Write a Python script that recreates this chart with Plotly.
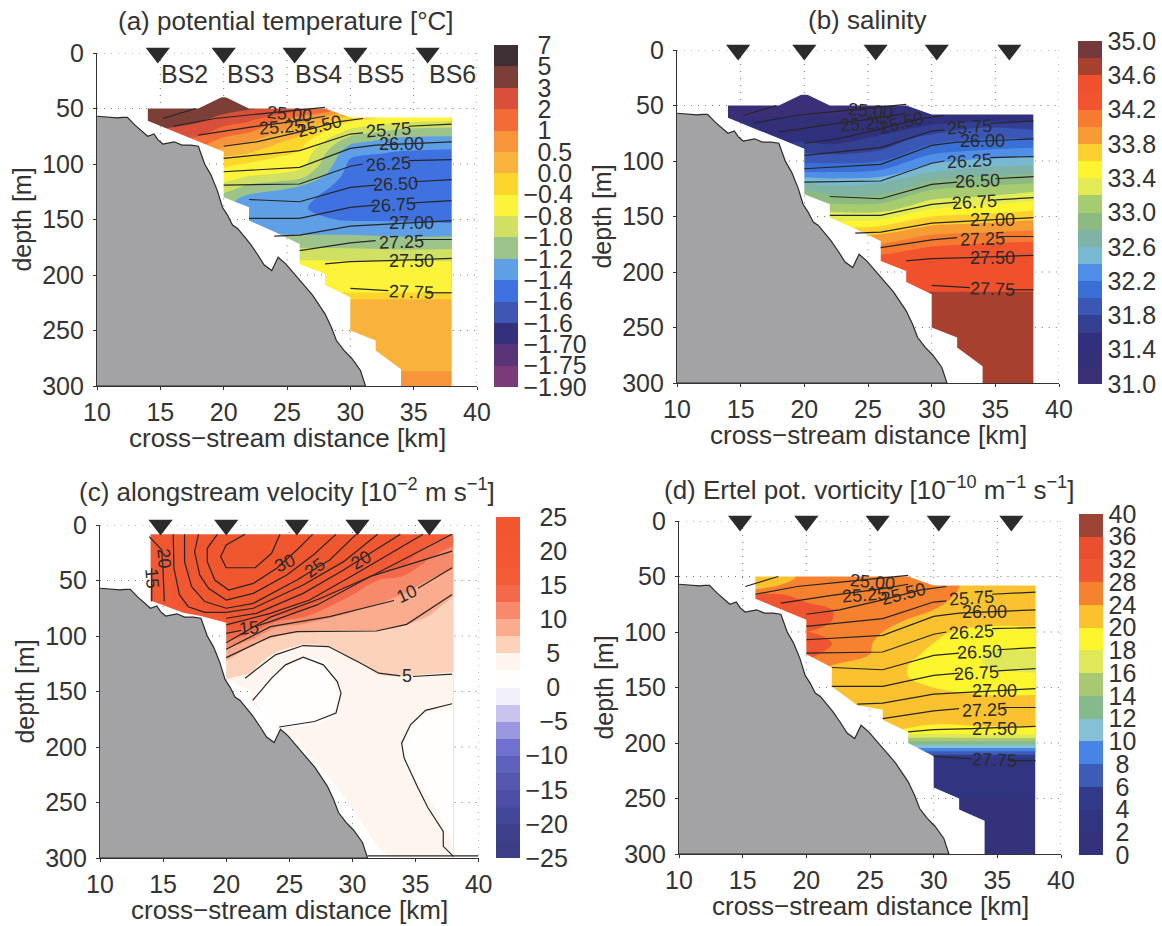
import numpy as np
import plotly.graph_objects as go

W, H = 1162, 926

# ---------- section grid (km, m) ----------
grid_x = [14, 18, 20, 22, 26, 30, 34, 38]
grid_z = [40, 50, 60, 70, 80, 90, 100, 110, 120, 130, 140, 150, 160, 170, 180, 190, 200, 215, 225, 250, 280, 300]

theta = [
    [4.5, 4.5, 4.2, 3.5, 2.5, 1.0, -0.2, -0.6],
    [4.5, 4.2, 3.8, 3.2, 2.4, 0.8, -0.3, -0.6],
    [4.0, 3.4, 2.6, 2.2, 0.7, -0.3, -0.6, -0.7],
    [3.0, 2.5, 1.6, 1.2, 0.2, -0.85, -1.05, -1.1],
    [2.0, 1.5, 0.8, 0.5, -0.2, -1.15, -1.3, -1.3],
    [1.0, 0.7, 0.2, 0.0, -0.45, -1.35, -1.42, -1.45],
    [0.5, 0.0, -0.3, -0.45, -0.6, -1.45, -1.48, -1.48],
    [-0.3, -0.5, -0.6, -0.75, -0.9, -1.5, -1.52, -1.5],
    [-0.8, -0.8, -0.85, -1.05, -1.2, -1.52, -1.53, -1.52],
    [-1.0, -1.0, -1.1, -1.25, -1.35, -1.5, -1.53, -1.53],
    [-1.2, -1.2, -1.2, -1.35, -1.38, -1.5, -1.5, -1.52],
    [-1.3, -1.3, -1.3, -1.35, -1.35, -1.42, -1.42, -1.45],
    [-1.25, -1.25, -1.25, -1.25, -1.25, -1.25, -1.3, -1.3],
    [-1.1, -1.1, -1.1, -1.1, -1.12, -1.12, -1.12, -1.1],
    [-0.9, -0.9, -0.9, -0.9, -0.9, -0.92, -0.95, -0.95],
    [-0.7, -0.7, -0.7, -0.7, -0.7, -0.7, -0.7, -0.7],
    [-0.6, -0.6, -0.6, -0.6, -0.6, -0.6, -0.6, -0.6],
    [-0.45, -0.45, -0.45, -0.45, -0.45, -0.45, -0.45, -0.45],
    [0.25, 0.25, 0.25, 0.25, 0.25, 0.25, 0.25, 0.25],
    [0.25, 0.25, 0.25, 0.25, 0.25, 0.25, 0.25, 0.25],
    [0.4, 0.4, 0.4, 0.4, 0.4, 0.4, 0.4, 0.4],
    [0.7, 0.7, 0.7, 0.7, 0.7, 0.7, 0.7, 0.7],
]
salinity = [
    [31.1, 31.1, 31.1, 31.1, 31.1, 31.2, 31.35, 31.4],
    [31.1, 31.1, 31.1, 31.1, 31.1, 31.3, 31.4, 31.4],
    [31.15, 31.2, 31.2, 31.2, 31.3, 31.45, 31.45, 31.45],
    [31.3, 31.3, 31.35, 31.35, 31.5, 31.65, 31.8, 31.75],
    [31.4, 31.5, 31.55, 31.5, 31.65, 31.9, 32.0, 32.0],
    [31.6, 31.7, 31.75, 31.7, 31.8, 32.1, 32.2, 32.25],
    [31.8, 31.9, 31.95, 31.95, 32.0, 32.35, 32.45, 32.5],
    [32.0, 32.1, 32.2, 32.2, 32.25, 32.6, 32.7, 32.75],
    [32.4, 32.5, 32.6, 32.55, 32.6, 32.85, 32.95, 33.0],
    [32.8, 32.85, 32.9, 32.8, 32.8, 33.1, 33.15, 33.25],
    [33.0, 33.0, 33.1, 33.05, 33.05, 33.3, 33.4, 33.5],
    [33.3, 33.3, 33.3, 33.3, 33.3, 33.6, 33.65, 33.72],
    [33.6, 33.6, 33.6, 33.55, 33.65, 33.85, 33.9, 33.95],
    [33.9, 33.9, 33.9, 33.9, 33.9, 34.08, 34.12, 34.15],
    [34.1, 34.1, 34.1, 34.1, 34.12, 34.25, 34.3, 34.33],
    [34.3, 34.3, 34.3, 34.3, 34.3, 34.42, 34.43, 34.45],
    [34.4, 34.4, 34.4, 34.4, 34.4, 34.5, 34.5, 34.5],
    [34.55, 34.55, 34.55, 34.55, 34.55, 34.58, 34.58, 34.58],
    [34.65, 34.65, 34.65, 34.65, 34.65, 34.65, 34.65, 34.65],
    [34.7, 34.7, 34.7, 34.7, 34.7, 34.7, 34.7, 34.7],
    [34.7, 34.7, 34.7, 34.7, 34.7, 34.7, 34.7, 34.7],
    [34.7, 34.7, 34.7, 34.7, 34.7, 34.7, 34.7, 34.7],
]
vorticity = [
    [20, 22, 26, 26, 26, 24, 22, 22],
    [20, 21, 26, 27, 26, 25, 23, 22],
    [21, 25, 27, 27, 26, 25, 23, 22.5],
    [30, 30, 27, 27, 26, 24.5, 23, 22.5],
    [30, 30, 30, 28, 26, 24, 22.5, 22],
    [30, 30, 30, 28, 25, 22.5, 21, 21],
    [28, 28, 28, 27, 24, 20.5, 19.5, 19.5],
    [28, 28, 29, 28, 23, 20, 19, 19],
    [28, 28, 29, 27, 23, 19.5, 18, 17.5],
    [26, 26, 26, 24, 22, 19, 18, 17],
    [24, 24, 24, 23, 22, 19, 19, 18.5],
    [23, 23, 23, 22.5, 21.5, 20, 19.5, 19.5],
    [23, 23, 22, 22, 22, 21, 20.5, 20.5],
    [22, 22, 22, 22, 22, 21.5, 21, 21],
    [21.5, 21.5, 21.5, 21.5, 21.5, 21, 21, 21],
    [20, 20, 20, 20, 20, 19, 19.5, 19.5],
    [13, 13, 13, 13, 13, 13, 13, 13],
    [3, 3, 3, 3, 3, 3, 3, 3],
    [2.5, 2.5, 2.5, 2.5, 2.5, 2.5, 2.5, 2.5],
    [2, 2, 2, 2, 2, 2, 2, 2],
    [1.5, 1.5, 1.5, 1.5, 1.5, 1.5, 1.5, 1.5],
    [1.5, 1.5, 1.5, 1.5, 1.5, 1.5, 1.5, 1.5],
]

vel_x = [14, 20, 22, 24, 26, 28, 30, 32, 34, 36, 38]
vel_z = [8, 20, 35, 50, 65, 80, 95, 110, 125, 140, 155, 170, 190, 210, 240, 270, 300]
velocity = [
    [22, 34, 35, 33, 30, 28, 26, 22.5, 20, 17.5, 15],
    [20, 34, 35, 33, 30, 28, 24, 21, 17.5, 14.5, 12.2],
    [18, 33, 34, 31, 29, 25, 21, 18, 15.5, 11.7, 10.5],
    [18, 30, 30, 28, 25, 20.5, 16, 12.5, 11.4, 10, 8.8],
    [18, 27.5, 27.5, 23, 18.5, 15, 12, 10.7, 9.7, 8.8, 7.4],
    [15, 22, 19, 16, 13.8, 11, 9.7, 9, 8.3, 7.6, 6.9],
    [15, 15.8, 13.5, 8.5, 7.8, 7.5, 7.5, 7.5, 7.2, 6.9, 6.4],
    [15, 10.8, 7.2, 5.8, 4.55, 4.85, 6.1, 6.5, 6.4, 6.2, 5.9],
    [15, 6.8, 5.9, 3.1, 1.8, 2.3, 4.7, 5.5, 5.6, 5.5, 5.3],
    [15, 5, 4.2, 2, 1.5, 2.0, 4, 4.7, 4.8, 4.7, 4.7],
    [15, 3.5, 2.7, 1.5, 1.5, 1.8, 3.6, 4, 4.1, 3.9, 3.6],
    [15, 3, 3, 2, 1.8, 2.2, 3.5, 3.5, 3, 2.4, 2],
    [3, 3, 3, 3, 3, 3.2, 3.4, 3.1, 2.6, 2, 1.8],
    [3, 3, 3, 3.2, 3.2, 3.2, 3.2, 3.2, 2.5, 1.9, 1.7],
    [3, 3, 3, 3.2, 3.2, 3.2, 3.2, 3.2, 3, 2.4, 1.7],
    [3, 3, 3, 3.3, 3.3, 3.3, 3.3, 3.3, 3.3, 3, 2.2],
    [3, 3, 3, 3.3, 3.3, 3.3, 3.3, 3.3, 3.3, 3, 2.6],
]

# ---------- colour levels (bottom to top) ----------
theta_levels = [-1.9, -1.75, -1.7, -1.65, -1.6, -1.4, -1.2, -1.0, -0.8, -0.4, 0.0, 0.5, 1, 2, 3, 5, 7]
theta_labels = ["−1.90", "−1.75", "−1.70", "−1.6", "−1.6", "−1.4", "−1.2", "−1.0", "−0.8", "−0.4",
                "\u00a0\u00a00.0", "\u00a0\u00a00.5", "\u00a0\u00a01", "\u00a0\u00a02", "\u00a0\u00a03", "\u00a0\u00a05", "\u00a0\u00a07"]
theta_colors = ["#7b3a78", "#5a3478", "#35307c", "#3f57b3", "#3f72e0", "#5f9fe5", "#9dc488", "#cfe062",
                "#fcf33a", "#fdd62c", "#f9b23b", "#f7953b", "#f26a36", "#d9503a", "#7c3f38", "#3f3035"]

sal_levels = [31.0, 31.2, 31.4, 31.6, 31.8, 32.0, 32.2, 32.4, 32.6, 32.8, 33.0, 33.2, 33.4, 33.6, 33.8, 34.0, 34.2, 34.4, 34.6, 34.8, 35.0]
sal_tick_idx = [0, 2, 4, 6, 8, 10, 12, 14, 16, 18, 20]
sal_labels = ["31.0", "31.4", "31.8", "32.2", "32.6", "33.0", "33.4", "33.8", "34.2", "34.6", "35.0"]
sal_colors = ["#3b3078", "#33307a", "#30307e", "#333f90", "#3a57b5", "#3a70d5", "#4f8fe8", "#78b8d0", "#7fb3a5", "#8cba80",
              "#a7cc70", "#e4ec55", "#fdf52f", "#fcd02f", "#f79b35", "#f67a30", "#f2552e", "#f0502c", "#a8402f", "#74393a"]

vel_levels = [-25, -22.5, -20, -17.5, -15, -12.5, -10, -7.5, -5, -2.5, 0, 2.5, 5, 7.5, 10, 12.5, 15, 17.5, 20, 22.5, 25]
vel_tick_idx = [0, 2, 4, 6, 8, 10, 12, 14, 16, 18, 20]
vel_labels = ["−25", "−20", "−15", "−10", "\u00a0\u00a0−5", "\u00a0\u00a0\u00a00", "\u00a0\u00a0\u00a05",
              "\u00a0\u00a010", "\u00a0\u00a015", "\u00a0\u00a020", "\u00a0\u00a025"]
vel_colors = ["#3d3d86", "#3e408d", "#434797", "#4b4ea3", "#5557ae", "#5f62bd", "#6f70cf", "#9b98e0", "#c8c4ee", "#f2f0fa",
              "#fffefd", "#fef6ee", "#fcd2bb", "#fbab8e", "#f88a6c", "#f4694a", "#f35a36", "#f25833", "#f15731", "#f1572f"]

pv_levels = [0, 2, 4, 6, 8, 10, 12, 14, 16, 18, 20, 24, 28, 32, 36, 40]
pv_labels = ["\u00a00", "\u00a02", "\u00a04", "\u00a06", "\u00a08", "10", "12", "14", "16", "18", "20", "24", "28", "32", "36", "40"]
pv_colors = ["#34327a", "#313480", "#323a8c", "#3c5cb8", "#4684e8", "#86c0d6", "#84ba8d", "#a9c872", "#dfe858", "#fdf52e",
             "#fbc22f", "#f6812f", "#ee5531", "#ec4f2f", "#9c4537"]

# ---------- topography and section outline ----------
bathy_x = [10, 10.8, 11.6, 12.0, 12.4, 13.0, 13.5, 14.0, 14.5, 14.8, 15.2, 15.6, 16.1, 16.7, 17.4, 18.0, 18.5, 19.0, 19.5, 19.9,
           20.3, 20.7, 21.1, 21.6, 22.1, 22.7, 23.2, 23.8, 24.0, 24.3, 24.9, 25.5, 26.3, 27.0, 28.0, 28.5, 28.9, 29.5, 30.1, 30.8, 31.2, 10]
bathy_z = [57, 58, 58.5, 58, 58, 65, 70, 75, 73, 78, 82, 81, 80, 83, 83, 84, 100, 110, 124, 139,
           146, 155, 158, 165, 172, 182, 191, 196, 191, 184, 190, 198, 208, 218, 235, 247, 259, 268, 275, 286, 300, 300]

section_x = [14, 18, 20, 22, 28, 30, 38, 38, 34, 34, 32, 32, 30, 30, 28, 28, 26, 26, 24, 22, 22, 20, 20, 14]
section_z = [50, 50, 39, 50, 50, 58, 58, 300, 300, 285, 268, 259, 250, 220, 209, 199, 190, 172, 161, 151, 139, 130, 89, 61]
pv_section_x = [16, 28, 30, 38, 38, 34, 34, 32, 32, 30, 30, 28, 28, 26, 26, 24, 22, 22, 20, 20, 16]
pv_section_z = [50, 50, 58, 58, 300, 300, 270, 260, 250, 240, 212, 200, 190, 179, 170, 166, 149, 132, 120, 89, 70]
vel_section_x = [14, 38, 38, 33, 32, 30, 28, 26, 24.3, 22, 22, 20, 20, 18, 16.6, 14]
vel_section_z = [8.4, 8.4, 300, 300, 290, 255, 225, 200, 184, 160, 150, 138, 88, 82, 79, 68]

# ---------- isopycnals ----------
sigma_lines = [
    ([15.2, 17.8], [59, 50]),
    ([16, 19.3, 22.7, 28], [66, 59, 55, 49]),
    ([18, 22, 26, 28], [74, 67, 61, 57]),
    ([20, 22.6, 26, 29, 31], [84, 80, 71, 62, 59]),
    ([20, 22.6, 26, 30, 31, None, 34.6, 38], [95, 92, 88, 73, 72, None, 66, 64]),
    ([20, 26, 30, 32, 38], [107, 103, 86, 83, 80]),
    ([20, 26, 30, 31, None, 34.6, 38], [119, 118, 102, 100, None, 97, 96]),
    ([22, 26, 30, 32, None, 35, 38], [132, 134, 121, 119, None, 116, 114]),
    ([22, 26, 30, 32, None, 35, 38], [149, 149, 139, 137, None, 135, 133]),
    ([24, 26, 30, 33, 38], [165, 164, 156, 154, 151]),
    ([26, 30, 32, None, 35.3, 38], [178, 171, 169, None, 168, 168]),
    ([28, 30, 33, 38], [190, 188, 187, 185]),
    ([30, 33, None, 36, 38], [212, 214, None, 216, 216]),
]
sigma_text = ["25.00", "25.25", "25.50", "25.75", "26.00", "26.25", "26.50", "26.75", "27.00", "27.25", "27.50", "27.75"]
sigma_text_x = [25.2, 24.6, 27.6, 33.0, 34.0, 33.0, 33.6, 33.4, 34.8, 34.0, 34.8, 34.8]
sigma_text_z = [55, 67, 66, 69, 82, 100, 118, 137, 153, 170, 187, 215]
sigma_text_angle = [5, -4, -14, -4, 0, -3, -2, -3, 0, -2, 0, 2]

# ---------- velocity isotachs ----------
vel_lines = [
    ([21.5, 20, 19.56, 20, 22.3, 23.6, 24.26], [8.4, 18, 28.5, 38.5, 38.5, 25.5, 8.4]),
    ([19.3, 18.5, 18.5, 19.1, 20.2, 22.15, 24, 25.6, 26.85], [8.4, 21, 33, 49.6, 58.6, 52.6, 39, 22.5, 8.4]),
    ([17.8, 17.5, 17.9, 18.6, 20, 22.15, 24.8, 26.9, 28.7], [8.4, 24, 45, 57, 67.6, 61.6, 45, 27, 8.4]),
    ([16.7, 16.7, 17.26, 18.3, 20, 22.15, 25.6, 28.2, 30.3], [8.4, 33, 55.6, 69, 75, 70.6, 49.6, 31.5, 8.4]),
    ([15.8, 15.86, 16.3, 17, 18.3, 20, 22.15, 26.1, 29.3, 32], [8.4, 39, 63, 73.6, 78.7, 78.7, 75, 54, 33, 8.4]),
    ([13.9, 14.9, 15.0, 15.1], [10.5, 22.5, 42, 69]),
    ([20, 22.4, 26.1, 29.3, 33.8], [84, 79.6, 61.6, 40.5, 8.4]),
    ([20, 23.5, 26.6, 30.3, 35.6], [90, 79.6, 67.6, 43.6, 8.4]),
    ([14.1, 14.1], [39, 69]),
    ([20, 21.2, None, 22.4, 23.5, 27.2, 30.9, 37.9], [97.6, 95, None, 91, 87, 72, 49.6, 8.4]),
    ([20, 23.5, 27.5, 31.5, 37.9], [106, 83, 66, 46, 23.5]),
    ([20, 23.5, 28.2, 33.3, None, 35.2, 37.9], [112, 91.6, 82.6, 68, None, 57, 38.5]),
    ([20, 23.5, 25.6, 31.9, 34.3, 37.9], [119.5, 100.6, 96, 95.5, 89.5, 62.5]),
    ([21.5, 23.9, 26.1, 28.1, 30.4, 32.1, 33.8, None, 34.8, 37.9], [138, 117, 108.6, 109.5, 123, 133.5, 136, None, 136.5, 134.4]),
    ([22.1, 23.6, 24.7, 26.1, 27.7, 28.8, 29.1, 28.7, 27, 24.2], [158, 138, 126, 119, 126, 141, 151.5, 169.5, 177, 182]),
    ([37.9, 35.8, 34.6, 33.9, 34.1, 35.2, 36, 37.2, 37.2, 38], [161, 167, 180, 196.5, 210, 237, 255, 276, 289.5, 298.5]),
    ([31.2, 40], [298, 298]),
]
vel_text = ["30", "25", "20", "10", "15", "5", "20", "15"]
vel_text_x = [24.66, 27.0, 30.7, 34.3, 21.8, 34.3, 15.05, 14.1]
vel_text_z = [34.5, 39, 31.5, 62.5, 93, 136, 30, 48]
vel_text_angle = [-25, -35, -30, -25, -5, 0, 85, 85]

station_x = [14.8, 20.0, 25.6, 30.4, 36.1]
station_names = ["BS2", "BS3", "BS4", "BS5", "BS6"]
station_name_x = [16.9, 22.1, 27.5, 32.4, 38.1]
station_name_z = [19, 19, 19, 19, 19]

x_ticks = [10, 15, 20, 25, 30, 35, 40]
z_ticks = [0, 50, 100, 150, 200, 250, 300]

FONT = "Liberation Sans, Arial, sans-serif"
INK = "#333333"
GRAY = "#a3a3a6"

panels = [
    dict(box=(97, 477, 53, 386), cb=(494, 45, 387), x=grid_x, z=grid_z, f=theta, lv=theta_levels, lb=theta_labels, col=theta_colors,
         ti=list(range(17)), sx=section_x, sz=section_z, title="(a) potential temperature [°C]", tx=285.5, ty=21, mode="sigma"),
    dict(box=(677, 1059, 50, 383), cb=(1078, 41, 384), x=grid_x, z=grid_z, f=salinity, lv=sal_levels, lb=sal_labels, col=sal_colors,
         ti=sal_tick_idx, sx=section_x, sz=section_z, title="(b) salinity", tx=867, ty=20, mode="sigma"),
    dict(box=(100, 478.6, 525, 858), cb=(496, 517, 858), x=vel_x, z=vel_z, f=velocity, lv=vel_levels, lb=vel_labels, col=vel_colors,
         ti=vel_tick_idx, sx=vel_section_x, sz=vel_section_z, title="(c) alongstream velocity [10<sup>−2</sup> m s<sup>−1</sup>]", tx=286.6, ty=491, mode="vel"),
    dict(box=(679, 1061, 521, 854), cb=(1079, 514, 855), x=grid_x, z=grid_z, f=vorticity, lv=pv_levels, lb=pv_labels, col=pv_colors,
         ti=list(range(16)), sx=pv_section_x, sz=pv_section_z, title="(d) Ertel pot. vorticity [10<sup>−10</sup> m<sup>−1</sup> s<sup>−1</sup>]", tx=868.6, ty=488, mode="sigma"),
]


def inside(px, pz, poly_x, poly_z):
    hit = False
    n = len(poly_x)
    for i in range(n):
        j = (i + 1) % n
        if (poly_z[i] > pz) != (poly_z[j] > pz):
            cross = poly_x[i] + (pz - poly_z[i]) / (poly_z[j] - poly_z[i]) * (poly_x[j] - poly_x[i])
            if px < cross:
                hit = not hit
    return hit


def open_grid(poly_x, poly_z):
    """Dotted guide lines, kept only where the section does not cover them."""
    gx, gz = [], []
    for tick in z_ticks[:-1]:
        for px in np.arange(10, 40.01, 0.1):
            keep = not inside(px, tick, poly_x, poly_z)
            gx.append(float(px) if keep else None)
            gz.append(tick if keep else None)
        gx.append(None); gz.append(None)
    for tick in x_ticks[1:]:
        for pz in np.arange(0, 300.01, 1.0):
            keep = not inside(tick, pz, poly_x, poly_z)
            gx.append(tick if keep else None)
            gz.append(float(pz) if keep else None)
        gx.append(None); gz.append(None)
    return gx, gz


fig = go.Figure()
annotations = []
layout_axes = {}

for k, p in enumerate(panels, start=1):
    xa, ya = ("x", "y") if k == 1 else (f"x{k}", f"y{k}")
    xname, yname = ("xaxis", "yaxis") if k == 1 else (f"xaxis{k}", f"yaxis{k}")
    x0, x1, yt, yb = p["box"]
    n = len(p["col"])
    idx = np.interp(np.array(p["f"], dtype=float), p["lv"], np.arange(n + 1))
    cs = []
    for i, c in enumerate(p["col"]):
        cs += [[i / n, c], [(i + 1) / n, c]]
    cx, ct, cb = p["cb"]
    fig.add_trace(go.Contour(
        x=p["x"], y=p["z"], z=idx, xaxis=xa, yaxis=ya, colorscale=cs, zmin=0, zmax=n,
        autocontour=False, contours=dict(start=1, end=n - 1, size=1, coloring="fill", showlines=False),
        line=dict(width=0), hoverinfo="skip",
        colorbar=dict(x=cx / W, xanchor="left", y=1 - cb / H, yanchor="bottom", len=(cb - ct) / H, lenmode="fraction",
                      thickness=24, thicknessmode="pixels", xpad=0, ypad=0, outlinewidth=0,
                      tickmode="array", tickvals=p["ti"], ticktext=p["lb"], ticks="", ticklabelposition="outside",
                      tickfont=dict(family=FONT, size=25, color=INK)),
    ))
    # white cover outside the section outline (keyhole polygon, hole wound the other way)
    hx, hz = list(p["sx"])[::-1], list(p["sz"])[::-1]
    mx = [10, 40, 40, 10, 10] + hx + [hx[0], 10]
    mz = [0, 0, 300, 300, 0] + hz + [hz[0], 0]
    fig.add_trace(go.Scatter(x=mx, y=mz, xaxis=xa, yaxis=ya, mode="lines", fill="toself", fillcolor="white",
                             line=dict(width=0), hoverinfo="skip", showlegend=False))
    gx, gz = open_grid(p["sx"], p["sz"])
    fig.add_trace(go.Scatter(x=gx, y=gz, xaxis=xa, yaxis=ya, mode="lines", line=dict(color="#777777", width=1, dash="1px 6px"),
                             hoverinfo="skip", showlegend=False, connectgaps=False))
    fig.add_trace(go.Scatter(x=bathy_x, y=bathy_z, xaxis=xa, yaxis=ya, mode="lines", fill="toself", fillcolor=GRAY,
                             line=dict(color="#2a2a2a", width=1.2), hoverinfo="skip", showlegend=False))
    lines = sigma_lines if p["mode"] == "sigma" else vel_lines
    for lx, lz in lines:
        fig.add_trace(go.Scatter(x=lx, y=lz, xaxis=xa, yaxis=ya, mode="lines", line=dict(color="#262626", width=1.2),
                                 hoverinfo="skip", showlegend=False))
    fig.add_trace(go.Scatter(x=station_x, y=[0] * len(station_x), xaxis=xa, yaxis=ya, mode="markers",
                             marker=dict(symbol="triangle-down", size=21, color="#2b2b2b"), cliponaxis=False,
                             hoverinfo="skip", showlegend=False))
    if p["mode"] == "sigma":
        tt, tx, tz, ta = sigma_text, sigma_text_x, sigma_text_z, sigma_text_angle
    else:
        tt, tx, tz, ta = vel_text, vel_text_x, vel_text_z, vel_text_angle
    for s, ax_, az_, an_ in zip(tt, tx, tz, ta):
        annotations.append(dict(text=s, x=ax_, y=az_, xref=xa, yref=ya, showarrow=False, textangle=an_,
                                font=dict(family=FONT, size=18, color="#2a2a2a")))
    if k == 1:
        for s, ax_, az_ in zip(station_names, station_name_x, station_name_z):
            annotations.append(dict(text=s, x=ax_, y=az_, xref=xa, yref=ya, showarrow=False,
                                    font=dict(family=FONT, size=25, color=INK)))
    annotations.append(dict(text=p["title"], x=p["tx"] / W, y=1 - p["ty"] / H, xref="paper", yref="paper", showarrow=False,
                            xanchor="center", yanchor="middle", font=dict(family=FONT, size=26, color=INK)))
    annotations.append(dict(text="cross−stream distance [km]", x=(x0 + x1) / 2 / W, y=1 - (yb + 52) / H, xref="paper", yref="paper",
                            showarrow=False, xanchor="center", yanchor="middle", font=dict(family=FONT, size=26, color=INK)))
    layout_axes[xname] = dict(domain=[x0 / W, x1 / W], range=[10, 40], anchor=ya, tickmode="array", tickvals=x_ticks,
                              ticks="outside", ticklen=3, tickcolor=INK, showline=True, linecolor=INK, linewidth=1.2,
                              showgrid=False, zeroline=False, tickfont=dict(family=FONT, size=25, color=INK),
                              ticklabelstandoff=1)
    layout_axes[yname] = dict(domain=[1 - yb / H, 1 - yt / H], range=[300, 0], anchor=xa, tickmode="array", tickvals=z_ticks,
                              ticks="outside", ticklen=3, tickcolor=INK, showline=True, linecolor=INK, linewidth=1.2,
                              showgrid=False, zeroline=False, tickfont=dict(family=FONT, size=25, color=INK),
                              ticklabelstandoff=4,
                              title=dict(text="depth [m]", standoff=3, font=dict(family=FONT, size=25, color=INK)))

fig.update_layout(width=W, height=H, margin=dict(l=0, r=0, t=0, b=0, autoexpand=False), autosize=False,
                  paper_bgcolor="white", plot_bgcolor="white",
                  showlegend=False, annotations=annotations, **layout_axes)

fig.write_html("out.html", config=dict(displayModeBar=False), post_script="document.body.style.margin='0';")
